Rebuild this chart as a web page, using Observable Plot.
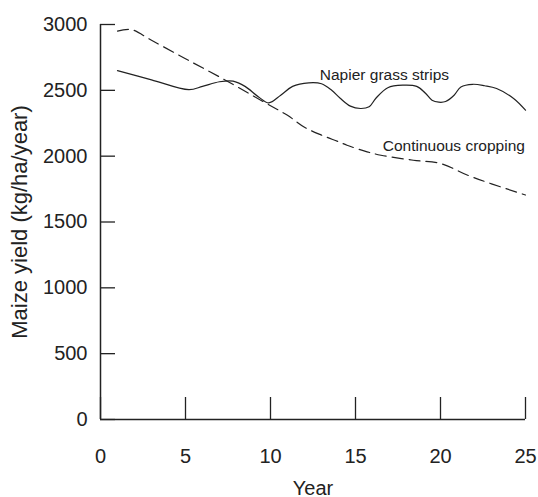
<!DOCTYPE html>
<html><head><meta charset="utf-8">
<script src="https://cdn.jsdelivr.net/npm/d3@7"></script>
<script src="https://cdn.jsdelivr.net/npm/@observablehq/plot@0.6"></script>
<style>body{margin:0;background:#fff}</style>
</head><body><div id="chart"></div>
<script>
// Napier grass strips (solid line)
const napierYear  = [1, 3, 5.2, 6, 7, 7.8, 8.5, 9.3, 9.9, 10.6, 11.3, 12.25, 13, 13.6, 14.1, 14.7, 15.3, 15.8, 16.2, 16.9, 17.8, 18.6, 19.1, 19.5, 19.9, 20.3, 20.8, 21.2, 21.9, 22.6, 23.3, 24.3, 25];
const napierYield = [2650, 2580, 2505, 2530, 2565, 2570, 2530, 2450, 2405, 2463, 2530, 2557, 2550, 2500, 2440, 2380, 2362, 2375, 2440, 2520, 2539, 2530, 2480, 2425, 2410, 2415, 2463, 2526, 2546, 2535, 2514, 2438, 2349];
// Continuous cropping (dashed line)
const contYear  = [1, 1.8, 3, 5, 7.35, 9.6, 11, 12, 13, 14, 14.5, 15.5, 16.5, 18.4, 20, 21.6, 23, 25];
const contYield = [2950, 2962, 2880, 2740, 2577, 2412, 2310, 2220, 2160, 2110, 2083, 2040, 2007, 1969, 1944, 1855, 1790, 1705];

const xTicks = [0, 5, 10, 15, 20, 25];
const yTicks = [0, 500, 1000, 1500, 2000, 2500, 3000];
const xTitle = "Year";
const yTitle = "Maize yield (kg/ha/year)";
const seriesNames = ["Napier grass strips", "Continuous cropping"];

const napier = napierYear.map((x, i) => ({year: x, value: napierYield[i]}));
const cont = contYear.map((x, i) => ({year: x, value: contYield[i]}));

const ink = "#222";
const chart = Plot.plot({
  width: 538, height: 497,
  marginLeft: 100, marginRight: 13, marginTop: 24, marginBottom: 78,
  x: {domain: [0, 25]},
  y: {domain: [0, 3000]},
  style: {fontFamily: "'Liberation Sans', Arial, Helvetica, sans-serif", color: ink, background: "#fff"},
  marks: [
    Plot.axisX({ticks: xTicks, tickFormat: d => String(d), tickSize: -22, tickPadding: 51, fontSize: 20, label: null, strokeWidth: 1.3}),
    Plot.axisY({ticks: yTicks, tickFormat: d => String(d), tickSize: -15, tickPadding: 28, fontSize: 20, label: null, strokeWidth: 1.3}),
    Plot.ruleX([0], {y1: 0, y2: 3000, stroke: ink, strokeWidth: 1.5}),
    Plot.ruleY([0], {x1: 0, x2: 25, stroke: ink, strokeWidth: 1.5}),
    Plot.line(napier, {x: "year", y: "value", curve: "catmull-rom", stroke: ink, strokeWidth: 1.2}),
    Plot.line(cont, {x: "year", y: "value", curve: "catmull-rom", stroke: ink, strokeWidth: 1.2, strokeDasharray: "11,6"}),
    Plot.text([seriesNames[0]], {x: () => 12.9, y: () => 2615, textAnchor: "start", fontSize: 15.5, fill: ink}),
    Plot.text([seriesNames[1]], {x: () => 16.6, y: () => 2076, textAnchor: "start", fontSize: 15.5, fill: ink}),
    Plot.text([xTitle], {frameAnchor: "bottom", dy: 75, fontSize: 20, fill: ink}),
    Plot.text([yTitle], {frameAnchor: "left", textAnchor: "middle", dx: -81, rotate: -90, fontSize: 22, fill: ink})
  ]
});
document.getElementById("chart").appendChild(chart);
</script>
</body></html>
